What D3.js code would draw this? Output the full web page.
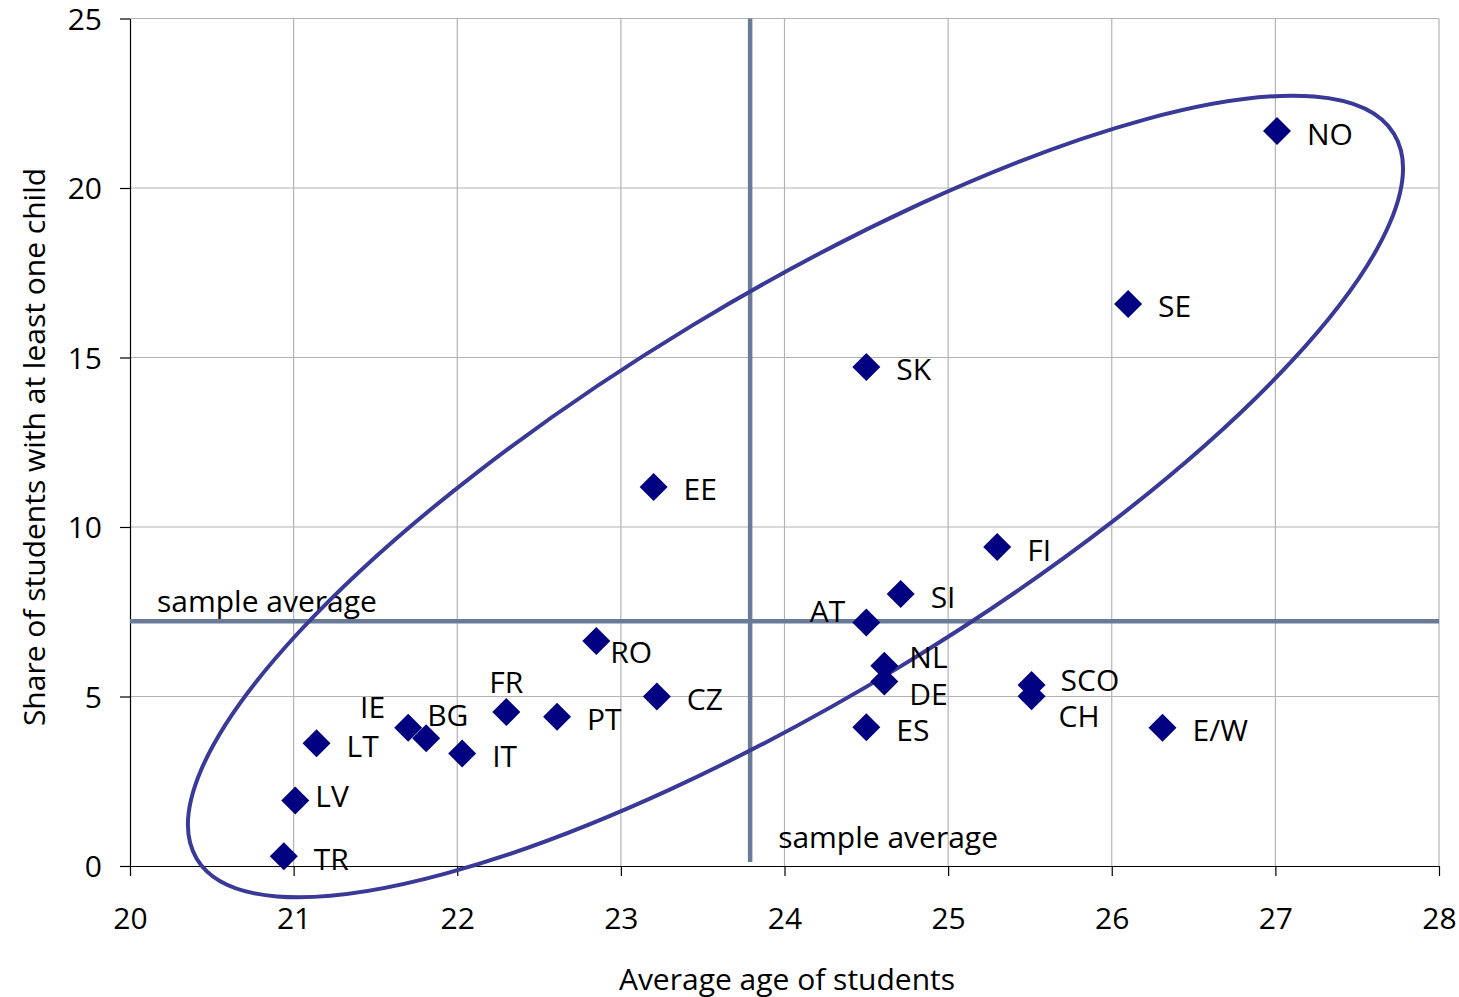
<!DOCTYPE html>
<html><head><meta charset="utf-8">
<script src="https://cdn.jsdelivr.net/npm/d3@7"></script>
<style>
html,body{margin:0;padding:0;background:#fff;}
text{font-family:"Open Sans",sans-serif;fill:#000;}
</style></head>
<body><svg id="chart" width="1459" height="997"></svg>
<script>
// ---- data ----
const countries = ["NO","SE","SK","EE","FI","SI","AT","NL","DE","ES","SCO","CH","E/W","RO","FR","IE","BG","LT","IT","PT","CZ","LV","TR"];
const avgAge    = [27.01,26.10,24.50,23.20,25.30,24.71,24.50,24.61,24.61,24.50,25.51,25.51,26.31,22.85,22.30,21.70,21.81,21.14,22.03,22.61,23.22,21.01,20.94];
const shareChild= [21.68,16.58,14.72,11.18,9.41,8.02,7.18,5.91,5.44,4.09,5.34,5.01,4.08,6.64,4.54,4.08,3.77,3.62,3.32,4.40,5.00,1.93,0.29];
const xTicks = [20,21,22,23,24,25,26,27,28];
const yTicks = [0,5,10,15,20,25];
const sampleAvgAge = 23.79;
const sampleAvgShare = 7.22;
const xTitle = "Average age of students";
const yTitle = "Share of students with at least one child";
const avgLabel = "sample average";
// ellipse annotation (centre in data units, semi-axes in x-axis units, rotation in degrees)
const ellipse = {cx: 24.067, cy: 10.90, a: 4.277, b: 1.221, angle: -31.2};

// label placement relative to marker (px)
const labelOffset = {
  "AT":[-21,-11,"end"], "IE":[-23,-20,"end"], "BG":[1,-23,"start"], "FR":[0,-30,"middle"],
  "RO":[14,12,"start"], "NL":[25,-8,"start"], "DE":[25,13,"start"], "CH":[27,20,"start"],
  "SCO":[29,-4,"start"], "LV":[20,-4,"start"]
};

const FS = 30;
const svg = d3.select("#chart");
const x = d3.scaleLinear().domain([20,28]).range([130,1439]);
const y = d3.scaleLinear().domain([0,25]).range([866,18.5]);

// gridlines
svg.append("g").selectAll("line").data(xTicks.slice(1)).join("line")
  .attr("x1",d=>x(d)).attr("x2",d=>x(d)).attr("y1",y(0)).attr("y2",y(25))
  .attr("stroke","#b3b3b3").attr("stroke-width",1.2);
svg.append("g").selectAll("line").data(yTicks.slice(1)).join("line")
  .attr("x1",x(20)).attr("x2",x(28)).attr("y1",d=>y(d)).attr("y2",d=>y(d))
  .attr("stroke","#b3b3b3").attr("stroke-width",1.2);

// axes
const xAxis = svg.append("g").attr("transform",`translate(0,${y(0)})`)
  .call(d3.axisBottom(x).tickValues(xTicks).tickSize(10).tickSizeOuter(0).tickFormat(d3.format("d")));
const yAxis = svg.append("g").attr("transform",`translate(${x(20)},0)`)
  .call(d3.axisLeft(y).tickValues(yTicks).tickSize(10).tickSizeOuter(0).tickFormat(d3.format("d")));
[xAxis,yAxis].forEach(g=>{
  g.select(".domain").attr("stroke","#000").attr("stroke-width",1.2);
  g.selectAll(".tick line").attr("stroke","#000").attr("stroke-width",1.2);
  g.selectAll("text").attr("font-family","'Open Sans',sans-serif").attr("font-size",FS).attr("fill","#000");
});
xAxis.selectAll("text").attr("dy",0).attr("y",63);
yAxis.selectAll("text").attr("x",-28).attr("dy","0.35em");

// sample average lines
svg.append("line").attr("x1",x(sampleAvgAge)).attr("x2",x(sampleAvgAge))
  .attr("y1",y(25)).attr("y2",y(0)-4).attr("stroke","#6a7b99").attr("stroke-width",4.5);
svg.append("line").attr("x1",x(20)).attr("x2",x(28))
  .attr("y1",y(sampleAvgShare)).attr("y2",y(sampleAvgShare)).attr("stroke","#6a7b99").attr("stroke-width",4.5);

svg.append("text").attr("x",x(20)+27).attr("y",y(sampleAvgShare)-9)
  .attr("font-size",FS).text(avgLabel);
svg.append("text").attr("x",x(sampleAvgAge)+28).attr("y",y(0)-18)
  .attr("font-size",FS).text(avgLabel);

// ellipse
const unit = x(21)-x(20);
const ecx = x(ellipse.cx), ecy = y(ellipse.cy);
svg.append("ellipse").attr("cx",0).attr("cy",0)
  .attr("rx",ellipse.a*unit).attr("ry",ellipse.b*unit)
  .attr("transform",`translate(${ecx},${ecy}) rotate(${ellipse.angle})`)
  .attr("fill","none").attr("stroke","#393997").attr("stroke-width",4);

// points
const pts = countries.map((c,i)=>({c, x:avgAge[i], y:shareChild[i]}));
const diamond = d3.symbol().type(d3.symbolSquare).size(392);
svg.append("g").selectAll("path").data(pts).join("path")
  .attr("d",diamond)
  .attr("transform",d=>`translate(${x(d.x)},${y(d.y)}) rotate(45)`)
  .attr("fill","#000080");

svg.append("g").selectAll("text").data(pts).join("text")
  .attr("x",d=>x(d.x)+(labelOffset[d.c]?labelOffset[d.c][0]:30))
  .attr("y",d=>y(d.y)+(labelOffset[d.c]?labelOffset[d.c][1]:3))
  .attr("dy","0.35em")
  .attr("text-anchor",d=>labelOffset[d.c]?labelOffset[d.c][2]:"start")
  .attr("font-size",FS).text(d=>d.c);

// axis titles
svg.append("text").attr("x",787).attr("y",979).attr("dy","0.35em")
  .attr("text-anchor","middle").attr("font-size",FS).text(xTitle);
svg.append("text").attr("transform","translate(34,447) rotate(-90)").attr("dy","0.35em")
  .attr("text-anchor","middle").attr("font-size",FS).text(yTitle);
</script></body></html>
